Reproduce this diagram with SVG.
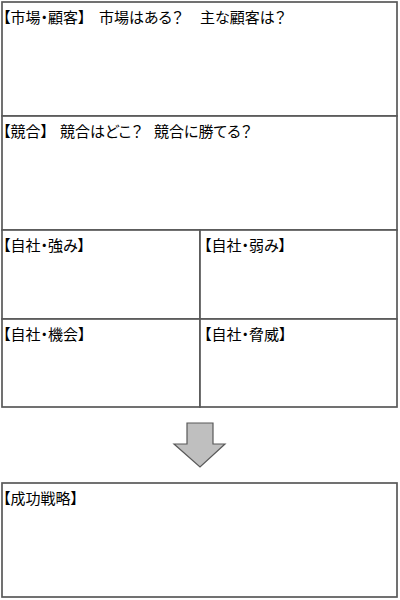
<svg xmlns="http://www.w3.org/2000/svg" width="400" height="600" viewBox="0 0 400 600">
<style>
.box{fill:#fff;stroke:#595959;stroke-width:1.7}
.t{font-family:"Noto Sans CJK JP","Liberation Sans",sans-serif;font-size:15px;fill:#000;font-feature-settings:"palt"}
.arrow{fill:#bfbfbf;stroke:#595959;stroke-width:1.2}
</style>
<rect width="400" height="600" fill="#fff"/>
<g id="market">
<rect class="box" x="2" y="2" width="395" height="114"/>
<text class="t" x="3" y="23">【市場・顧客】</text>
<text class="t" x="99" y="23">市場はある？</text>
<text class="t" x="200" y="23">主な顧客は？</text>
</g>
<g id="competition">
<rect class="box" x="2" y="116" width="395" height="114"/>
<text class="t" x="3" y="137">【競合】</text>
<text class="t" x="60" y="137">競合はどこ？</text>
<text class="t" x="154" y="137">競合に勝てる？</text>
</g>
<g id="strength">
<rect class="box" x="2" y="230" width="198" height="89"/>
<text class="t" x="3" y="251">【自社・強み】</text>
</g>
<g id="weakness">
<rect class="box" x="200" y="230" width="197" height="89"/>
<text class="t" x="204" y="251">【自社・弱み】</text>
</g>
<g id="opportunity">
<rect class="box" x="2" y="319" width="198" height="88"/>
<text class="t" x="3" y="340">【自社・機会】</text>
</g>
<g id="threat">
<rect class="box" x="200" y="319" width="197" height="88"/>
<text class="t" x="204" y="340">【自社・脅威】</text>
</g>
<g id="connectors">
<polygon class="arrow" points="187,423 213,423 213,444 225,444 200,467 174,444 187,444"/>
</g>
<g id="strategy">
<rect class="box" x="2" y="483" width="395" height="114"/>
<text class="t" x="3" y="504">【成功戦略】</text>
</g>
</svg>
